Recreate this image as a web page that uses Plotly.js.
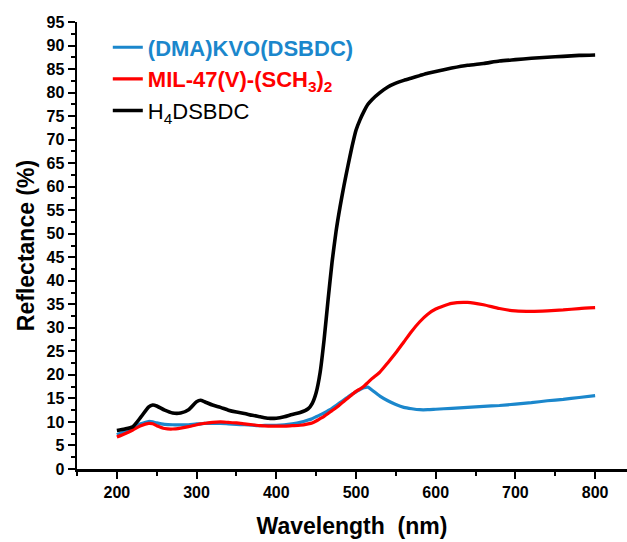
<!DOCTYPE html>
<html>
<head>
<meta charset="utf-8">
<script src="https://cdn.plot.ly/plotly-3.0.1.min.js"></script>
<style>html,body{margin:0;padding:0;background:#fff;}#chart{width:627px;height:542px;}</style>
</head>
<body>
<div id="chart"></div>
<script>
const wavelength = [200,210,220,230,240,245,250,260,270,280,290,300,305,310,320,330,340,350,360,370,380,390,400,410,420,430,440,445,450,455,460,465,470,475,480,485,490,495,500,505,510,515,520,530,540,550,560,570,580,590,600,620,640,660,680,700,720,740,760,780,800];

const dmaKVO = [7.3,8.0,8.8,9.6,10.1,10.0,9.8,9.5,9.4,9.4,9.4,9.6,9.6,9.7,9.7,9.7,9.6,9.5,9.4,9.3,9.2,9.3,9.3,9.4,9.6,9.9,10.4,10.7,11.1,11.5,11.9,12.4,12.9,13.5,14.1,14.7,15.3,15.9,16.4,16.9,17.3,17.4,16.8,15.5,14.5,13.7,13.1,12.8,12.6,12.6,12.7,12.9,13.1,13.3,13.5,13.8,14.1,14.5,14.8,15.2,15.6];

const mil47 = [6.8,7.5,8.3,9.2,9.7,9.6,9.2,8.6,8.5,8.7,9.0,9.4,9.6,9.7,9.9,10.0,9.9,9.8,9.6,9.4,9.2,9.1,9.1,9.1,9.2,9.3,9.6,9.8,10.2,10.7,11.2,11.8,12.4,13.0,13.7,14.4,15.1,15.8,16.5,17.0,17.6,18.4,19.2,20.6,22.6,24.7,27.0,29.3,31.3,32.9,34.0,35.2,35.4,34.9,34.1,33.6,33.5,33.6,33.8,34.1,34.3];

const h4dsbdc = [8.2,8.5,9.0,11.0,13.2,13.6,13.4,12.5,11.9,11.9,12.6,14.3,14.6,14.3,13.6,13.1,12.5,12.1,11.8,11.4,11.1,10.8,10.8,11.1,11.6,12.0,12.8,13.9,16.2,20.5,27.5,36,44,50.5,55.7,60.3,64.5,68.5,72,74.2,76,77.5,78.5,80,81.2,82,82.6,83.1,83.6,84.1,84.5,85.2,85.8,86.2,86.7,87,87.3,87.5,87.7,87.9,88];

const names = [
  '<b><span style="color:#1b87cc">(DMA)KVO(DSBDC)</span></b>',
  '<b><span style="color:#ff0000">MIL-47(V)-(SCH<sub>3</sub>)<sub>2</sub></span></b>',
  'H<sub>4</sub>DSBDC'
];
const colors = ['#1b87cc', '#ff0000', '#000000'];
const widths = [3.2, 3.2, 3.6];
const series = [dmaKVO, mil47, h4dsbdc];

const traces = series.map((ys, i) => ({
  x: wavelength, y: ys, type: 'scatter', mode: 'lines', name: names[i],
  line: {color: colors[i], width: widths[i], shape: 'spline', smoothing: 0.6}
}));

const FONT = 'Liberation Sans, Arial, sans-serif';
const layout = {
  width: 627, height: 542,
  margin: {l: 77, r: 0, t: 22, b: 73},
  paper_bgcolor: '#fff', plot_bgcolor: '#fff',
  showlegend: true,
  legend: {x: 0.056, y: 0.99, xanchor: 'left', yanchor: 'top', bgcolor: 'rgba(0,0,0,0)',
           font: {family: FONT, size: 22, color: '#000'}, tracegroupgap: 0},
  xaxis: {
    range: [150, 840], showgrid: false, zeroline: false,
    showline: true, linecolor: '#000', linewidth: 2.5,
    ticks: 'outside', ticklen: 7, tickwidth: 2, tickcolor: '#000',
    tickvals: [200,300,400,500,600,700,800],
    minor: {tickvals: [150,250,350,450,550,650,750], ticks: 'outside', ticklen: 4, tickwidth: 2, tickcolor: '#000'},
    tickfont: {family: FONT, size: 16, color: '#000', weight: 'bold'},
    title: {text: 'Wavelength  (nm)', font: {family: FONT, size: 23, color: '#000', weight: 'bold'}, standoff: 18}
  },
  yaxis: {
    range: [0, 95], showgrid: false, zeroline: false,
    showline: true, linecolor: '#000', linewidth: 2.5,
    ticks: 'outside', ticklen: 7, tickwidth: 2, tickcolor: '#000',
    dtick: 5, tick0: 0,
    minor: {dtick: 2.5, ticks: 'outside', ticklen: 4, tickwidth: 2, tickcolor: '#000'},
    tickfont: {family: FONT, size: 16, color: '#000', weight: 'bold'},
    title: {text: 'Reflectance (%)', font: {family: FONT, size: 23, color: '#000', weight: 'bold'}, standoff: 6}
  }
};

Plotly.newPlot('chart', traces, layout, {displayModeBar: false, staticPlot: true});
</script>
</body>
</html>
